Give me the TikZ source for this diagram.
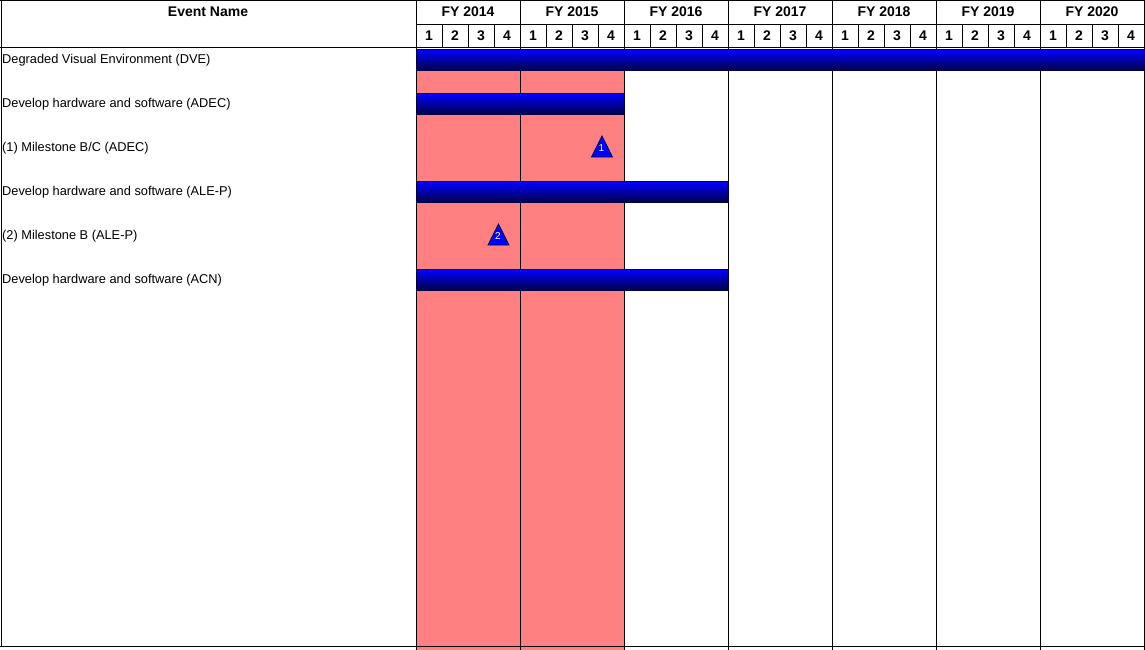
\documentclass[tikz,border=0pt]{standalone}
\usepackage{fontspec}
\setmainfont{Liberation Sans}
\usepackage{tikz}

\definecolor{rosa}{RGB}{255,128,128}
\definecolor{marino}{RGB}{0,0,70}

\tikzset{
  cab/.style={font=\fontsize{14}{16}\selectfont\bfseries, inner sep=0pt},
  evento/.style={font=\fontsize{12.8}{15}\selectfont, anchor=west, inner sep=0pt},
  barra/.style={draw=marino, line width=0.8pt, top color=blue, middle color=blue!85!black, bottom color=marino},
  hito/.style={fill=blue, draw=marino, line width=0.7pt},
  rejilla/.style={line width=1pt}
}

\begin{document}
\begin{tikzpicture}[x=1pt,y=-1pt]
  \useasboundingbox (0,0) rectangle (1145,650);

  % Zona sombreada (FY 2014 - FY 2015)
  \fill[rosa] (416,50) rectangle (624,650);

  % Rejilla
  \draw[rejilla] (0,0.5) -- (1145,0.5);
  \draw[rejilla] (416,25) -- (1145,25);
  \draw[rejilla] (0,47.5) -- (1145,47.5);
  \draw[rejilla] (0,646.5) -- (1145,646.5);
  \draw[rejilla] (1,0) -- (1,647);
  \foreach \k in {0,...,7} {
    \draw[rejilla] (416+104*\k,0) -- (416+104*\k,650);
  }
  \foreach \k in {0,...,6} {
    \foreach \q in {1,2,3} {
      \draw[rejilla] (416+104*\k+26*\q,25) -- (416+104*\k+26*\q,47.5);
    }
  }

  % Barras
  \foreach \fila/\fin in {0/1145, 1/624, 3/728, 5/728} {
    \draw[barra] (416,49.5+44*\fila) rectangle (\fin,70.5+44*\fila);
  }

  % Encabezados
  \node[cab] (nombre) at (208,12) {Event Name};
  \foreach \k/\anio in {0/2014, 1/2015, 2/2016, 3/2017, 4/2018, 5/2019, 6/2020} {
    \node[cab] (fy\anio) at (468+104*\k,12) {FY \anio};
    \foreach \q in {1,2,3,4} {
      \node[cab] (q\anio-\q) at (416+104*\k+26*\q-13,36) {\q};
    }
  }

  % Eventos
  \foreach \fila/\texto in {
    0/{Degraded Visual Environment (DVE)},
    1/{Develop hardware and software (ADEC)},
    2/{(1) Milestone B/C (ADEC)},
    3/{Develop hardware and software (ALE-P)},
    4/{(2) Milestone B (ALE-P)},
    5/{Develop hardware and software (ACN)}} {
    \node[evento] (ev\fila) at (2,60+44*\fila) {\texto};
  }

  % Hitos
  \filldraw[hito] (602,136) -- (612.5,157) -- (591.5,157) -- cycle;
  \node[font=\fontsize{10}{12}\selectfont, text=white, inner sep=0pt] (h1) at (601.5,148) {1};
  \filldraw[hito] (498.5,224) -- (509,245) -- (488,245) -- cycle;
  \node[font=\fontsize{10}{12}\selectfont, text=white, inner sep=0pt] (h2) at (498,236) {2};
\end{tikzpicture}
\end{document}
